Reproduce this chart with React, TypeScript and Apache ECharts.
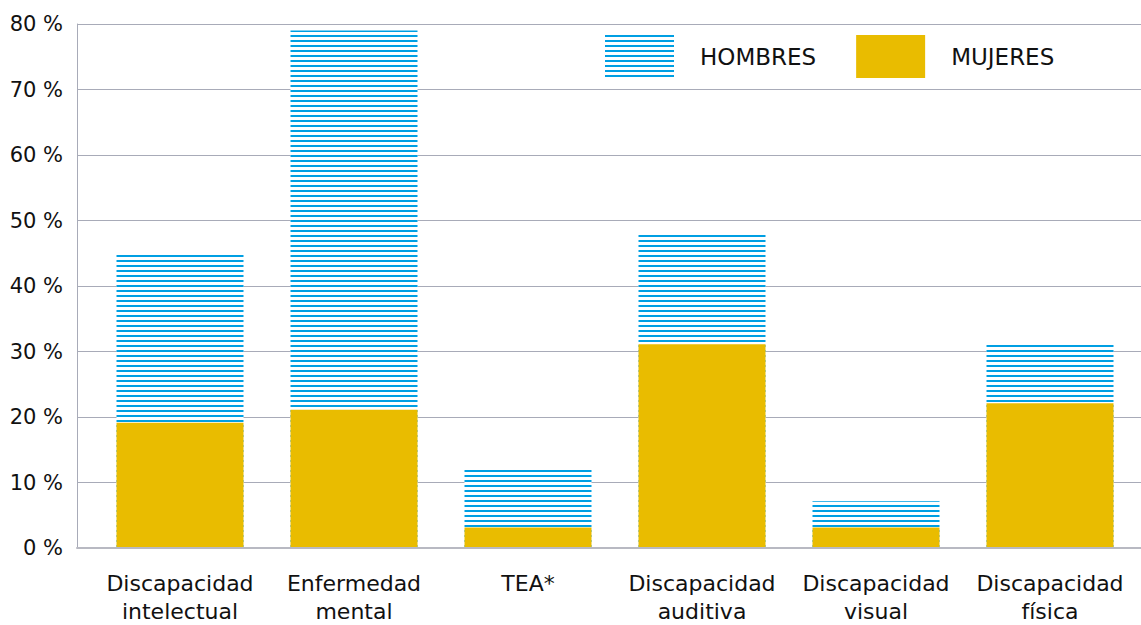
import React, { useEffect, useRef } from "react";
import * as echarts from "echarts";

const categories = [
  "Discapacidad\nintelectual",
  "Enfermedad\nmental",
  "TEA*",
  "Discapacidad\nauditiva",
  "Discapacidad\nvisual",
  "Discapacidad\nfísica",
];
const hombres = [45, 79, 12, 48, 7, 31];
const mujeres = [19, 21, 3, 31, 3, 22];
const seriesNames = ["HOMBRES", "MUJERES"];

const BLUE = "#009FE3";
const GOLD = "#E9BC00";
const FONT = "DejaVu Sans";

export default function App() {
  const ref = useRef<HTMLDivElement>(null);
  useEffect(() => {
    if (!ref.current) return;
    const chart = echarts.init(ref.current, undefined, { renderer: "svg" });
    const decal = {
      symbol: "rect",
      symbolSize: 1,
      dashArrayX: [1, 0],
      dashArrayY: [2, 3],
      rotation: 0,
      color: BLUE,
    };
    chart.setOption({
      animation: false,
      aria: { enabled: false },
      grid: [
        { left: 77, right: 0, top: 24, bottom: 77, containLabel: false },
        { left: 93, right: 4, top: 24, bottom: 77, containLabel: false },
      ],
      legend: {
        top: 35,
        left: 605,
        padding: 0,
        itemWidth: 69,
        itemHeight: 43,
        itemGap: 40,
        icon: "rect",
        data: seriesNames,
        textStyle: {
          fontFamily: FONT,
          fontSize: 23,
          color: "#111",
          padding: [0, 0, 0, 21],
        },
      },
      xAxis: [
        {
          type: "category",
          gridIndex: 0,
          data: categories,
          axisLine: { show: true, lineStyle: { color: "#b8b9c2", width: 2 } },
          axisTick: { show: false },
          axisLabel: { show: false },
        },
        {
          type: "category",
          gridIndex: 1,
          data: categories,
          axisLine: { show: false },
          axisTick: { show: false },
          axisLabel: {
            fontFamily: FONT,
            fontSize: 22,
            color: "#111",
            lineHeight: 28,
            margin: 22,
            interval: 0,
          },
        },
      ],
      yAxis: [
        {
          type: "value",
          gridIndex: 0,
          min: 0,
          max: 80,
          interval: 10,
          axisLine: { show: true, lineStyle: { color: "#a8abb8", width: 1 } },
          axisTick: { show: false },
          splitLine: { lineStyle: { color: "#a8abb8", width: 1 } },
          axisLabel: {
            fontFamily: FONT,
            fontSize: 21,
            color: "#111",
            margin: 14,
            formatter: (v: number) => `${v} %`,
          },
        },
        {
          type: "value",
          gridIndex: 1,
          min: 0,
          max: 80,
          interval: 10,
          show: false,
          splitLine: { show: false },
        },
      ],
      series: [
        {
          name: seriesNames[0],
          type: "bar",
          xAxisIndex: 1,
          yAxisIndex: 1,
          data: hombres,
          barWidth: 127,
          barGap: "-100%",
          itemStyle: { color: "#ffffff", decal },
        },
        {
          name: seriesNames[1],
          type: "bar",
          xAxisIndex: 1,
          yAxisIndex: 1,
          data: mujeres,
          barWidth: 127,
          barGap: "-100%",
          itemStyle: { color: GOLD },
        },
      ],
    });
    return () => chart.dispose();
  }, []);
  return <div ref={ref} style={{ width: 1141, height: 625, position: "absolute", left: 0, top: 0 }} />;
}
